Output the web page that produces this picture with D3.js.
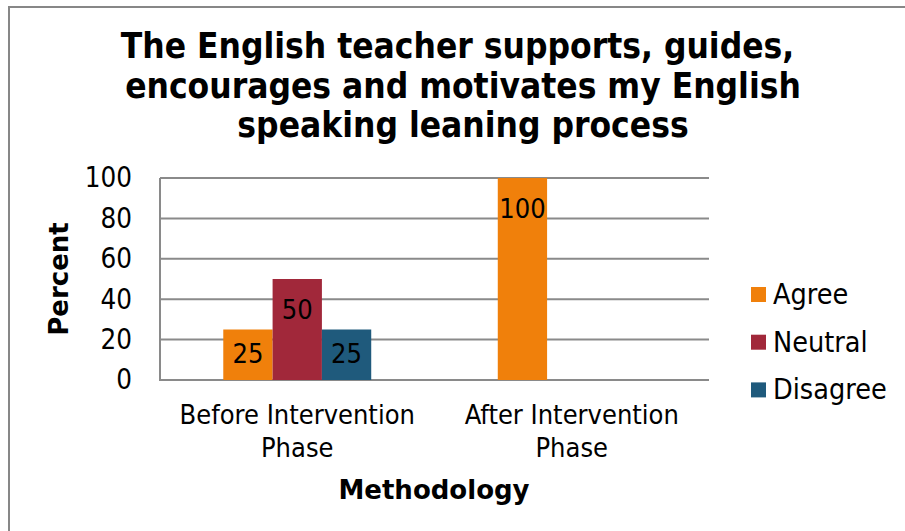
<!DOCTYPE html>
<html>
<head>
<meta charset="utf-8">
<script src="https://cdn.jsdelivr.net/npm/d3@7"></script>
<style>
  body { margin: 0; background: #fff; }
  text { fill: #000; }
</style>
</head>
<body>
<div id="chart"></div>
<script>
// chart data
var titleLines = ["The English teacher supports, guides, ", "encourages and motivates my English", "speaking leaning process"];
var categories = ["Before Intervention Phase", "After Intervention Phase"];
var categoryLines = [["Before Intervention", "Phase"], ["After Intervention", "Phase"]];
var seriesNames = ["Agree", "Neutral", "Disagree"];
var seriesColors = ["#f0800b", "#a1283a", "#1f5a7c"];
// values per series, one per category (null = no bar)
var agree = [25, 100];
var neutral = [50, null];
var disagree = [25, null];
var yTicks = [0, 20, 40, 60, 80, 100];

var seriesValues = [agree, neutral, disagree];

var width = 905, height = 531;
var plot = {left: 160, right: 709, top: 178, bottom: 380};
var bodyFont = "'DejaVu Sans Condensed', 'DejaVu Sans', sans-serif";

var svg = d3.select("#chart").append("svg")
    .attr("width", width)
    .attr("height", height);

// outer border (runs off the right and bottom edge)
svg.append("rect")
    .attr("x", 9).attr("y", 7)
    .attr("width", width).attr("height", height)
    .attr("fill", "#fff")
    .attr("stroke", "#878787")
    .attr("stroke-width", 2);

// title (trailing space kept, like the wrapped original)
svg.append("g").selectAll("text")
    .data(titleLines)
    .enter().append("text")
    .attr("x", 463)
    .attr("y", function(d, i) { return 58 + i * 39.5; })
    .attr("text-anchor", "middle")
    .style("white-space", "pre")
    .style("font-family", bodyFont)
    .style("font-weight", "bold")
    .style("font-size", "35px")
    .text(function(d) { return d; });

var y = d3.scaleLinear().domain([0, 100]).range([plot.bottom, plot.top]);
var x0 = d3.scaleBand().domain(categories).range([plot.left, plot.right]);
var x1 = d3.scaleBand().domain(seriesNames).range([0, x0.bandwidth()]).paddingOuter(1.283);

// gridlines
svg.append("g").selectAll("line")
    .data(yTicks)
    .enter().append("line")
    .attr("x1", plot.left).attr("x2", plot.right)
    .attr("y1", function(d) { return y(d); })
    .attr("y2", function(d) { return y(d); })
    .attr("stroke", "#8a8a8a")
    .attr("stroke-width", 2);

// left axis line
svg.append("line")
    .attr("x1", plot.left).attr("x2", plot.left)
    .attr("y1", plot.top).attr("y2", plot.bottom + 1)
    .attr("stroke", "#8a8a8a")
    .attr("stroke-width", 2);

// y axis labels
var yAxis = svg.append("g")
    .attr("transform", "translate(" + plot.left + ",0)")
    .call(d3.axisLeft(y).tickValues(yTicks).tickSize(0).tickPadding(28));
yAxis.select(".domain").remove();
yAxis.selectAll("text")
    .style("font-family", bodyFont)
    .style("font-size", "27.5px")
    .attr("fill", "#000");

// bars
var bars = [];
seriesValues.forEach(function(vals, s) {
  vals.forEach(function(v, c) {
    if (v != null) bars.push({series: seriesNames[s], color: seriesColors[s], cat: categories[c], value: v});
  });
});

svg.append("g").selectAll("rect")
    .data(bars)
    .enter().append("rect")
    .attr("x", function(d) { return x0(d.cat) + x1(d.series); })
    .attr("y", function(d) { return y(d.value); })
    .attr("width", x1.bandwidth())
    .attr("height", function(d) { return y(0) - y(d.value); })
    .attr("fill", function(d) { return d.color; });

// data labels, inside end
svg.append("g").selectAll("text")
    .data(bars)
    .enter().append("text")
    .attr("x", function(d) { return x0(d.cat) + x1(d.series) + x1.bandwidth() / 2; })
    .attr("y", function(d) { return Math.min(y(d.value) + 30, y(0) - 27); })
    .attr("text-anchor", "middle")
    .attr("dominant-baseline", "central")
    .style("font-family", bodyFont)
    .style("font-size", "27px")
    .text(function(d) { return d.value; });

// category labels
var catG = svg.append("g").selectAll("text")
    .data(categories)
    .enter().append("text")
    .attr("text-anchor", "middle")
    .style("font-family", bodyFont)
    .style("font-size", "27px");
catG.each(function(d, i) {
  var t = d3.select(this);
  categoryLines[i].forEach(function(line, k) {
    t.append("tspan")
      .attr("x", x0(d) + x0.bandwidth() / 2)
      .attr("y", 424 + k * 33)
      .text(line);
  });
});

// axis titles
svg.append("text")
    .attr("x", 434).attr("y", 499)
    .attr("text-anchor", "middle")
    .style("font-family", "'DejaVu Sans', Verdana, sans-serif")
    .style("font-weight", "bold")
    .style("font-size", "26px")
    .text("Methodology");

svg.append("text")
    .attr("transform", "translate(68,279) rotate(-90)")
    .attr("text-anchor", "middle")
    .style("font-family", "'DejaVu Sans', Verdana, sans-serif")
    .style("font-weight", "bold")
    .style("font-size", "26px")
    .text("Percent");

// legend
var legend = svg.append("g").selectAll("g")
    .data(seriesNames)
    .enter().append("g")
    .attr("transform", function(d, i) { return "translate(751," + (294.5 + i * 47.7) + ")"; });
legend.append("rect")
    .attr("x", 0).attr("y", -7.5)
    .attr("width", 15).attr("height", 15)
    .attr("fill", function(d, i) { return seriesColors[i]; });
legend.append("text")
    .attr("x", 22).attr("y", 0)
    .attr("dominant-baseline", "central")
    .style("font-family", bodyFont)
    .style("font-size", "28.5px")
    .text(function(d) { return d; });
</script>
</body>
</html>
